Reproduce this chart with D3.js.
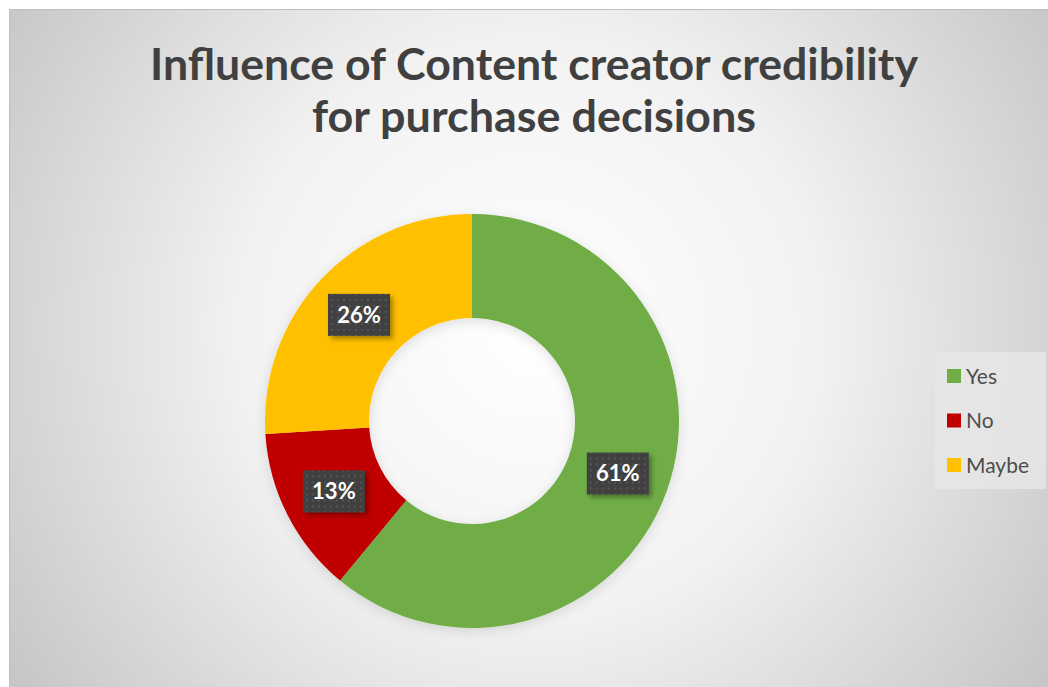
<!DOCTYPE html>
<html>
<head>
<meta charset="utf-8">
<script src="https://cdn.jsdelivr.net/npm/d3@7"></script>
<style>
  html, body { margin: 0; padding: 0; background: #ffffff; }
  svg { display: block; }
</style>
</head>
<body>
<svg id="chart" width="1048" height="687"></svg>
<script>
// Survey answers and their shares (percent)
const categories = ["Yes", "No", "Maybe"];
const shares = [61, 13, 26];
const colors = ["#70AD47", "#C00000", "#FFC000"];
const titleLines = ["Influence of Content creator credibility", "for purchase decisions"];

const W = 1048, H = 687;
const svg = d3.select("#chart");
const defs = svg.append("defs");

// Radial background fill: white in the middle fading to grey at the edges
const bg = defs.append("radialGradient").attr("id", "bgGrad")
  .attr("gradientUnits", "userSpaceOnUse")
  .attr("cx", 530).attr("cy", 330).attr("r", 640);
bg.append("stop").attr("offset", "0%").attr("stop-color", "#ffffff");
bg.append("stop").attr("offset", "45%").attr("stop-color", "#f2f2f2");
bg.append("stop").attr("offset", "100%").attr("stop-color", "#c4c4c4");

// Dotted texture for the data label boxes
const pat = defs.append("pattern").attr("id", "dots")
  .attr("patternUnits", "userSpaceOnUse").attr("width", 6).attr("height", 6);
pat.append("rect").attr("width", 6).attr("height", 6).attr("fill", "#404040");
pat.append("rect").attr("x", 2).attr("y", 2).attr("width", 2).attr("height", 2).attr("fill", "#555555");

// Soft shadows
const lblShadow = defs.append("filter").attr("id", "lblShadow")
  .attr("x", "-30%").attr("y", "-30%").attr("width", "160%").attr("height", "160%");
lblShadow.append("feDropShadow").attr("dx", 3).attr("dy", 3).attr("stdDeviation", 2.5)
  .attr("flood-color", "#000").attr("flood-opacity", 0.35);

const ringShadow = defs.append("filter").attr("id", "ringShadow")
  .attr("x", "-20%").attr("y", "-20%").attr("width", "140%").attr("height", "140%");
ringShadow.append("feDropShadow").attr("dx", 0).attr("dy", 3).attr("stdDeviation", 6)
  .attr("flood-color", "#000").attr("flood-opacity", 0.12);

// Chart area
svg.append("rect")
  .attr("x", 9.5).attr("y", 9.5).attr("width", W).attr("height", H)
  .attr("fill", "url(#bgGrad)")
  .attr("stroke", "#bfbfbf").attr("stroke-width", 1);

// Title: two centred lines, condensed to their set widths
const titleY = [80, 132];
const titleW = [768, 444];
const titleX = 534;
svg.append("g")
  .attr("font-family", "Lato, 'Open Sans', sans-serif")
  .attr("font-weight", "bold").attr("fill", "#404040").attr("text-anchor", "middle")
  .selectAll("text").data(titleLines).join("text")
  .attr("x", titleX).attr("y", (d, i) => titleY[i])
  .attr("font-size", 44)
  .attr("textLength", (d, i) => titleW[i])
  .attr("lengthAdjust", "spacingAndGlyphs")
  .text(d => d);

// Donut
const cx = 472, cy = 421, rOuter = 207, rInner = 103;
const data = categories.map((c, i) => ({ name: c, value: shares[i], color: colors[i] }));
const pie = d3.pie().value(d => d.value).sort(null);
const arcs = pie(data);
const arc = d3.arc().innerRadius(rInner).outerRadius(rOuter);
const labelArc = d3.arc().innerRadius((rInner + rOuter) / 2).outerRadius((rInner + rOuter) / 2);

const ring = svg.append("g").attr("transform", `translate(${cx},${cy})`);
ring.append("g").attr("filter", "url(#ringShadow)")
  .selectAll("path").data(arcs).join("path")
  .attr("d", arc)
  .attr("fill", d => d.data.color);

// Data labels
const fmt = d3.format(".0%");
const total = d3.sum(shares);
const labels = ring.selectAll("g.lbl").data(arcs).join("g")
  .attr("class", "lbl")
  .attr("transform", d => {
    const [x, y] = labelArc.centroid(d);
    return `translate(${x},${y})`;
  });
labels.append("rect")
  .attr("x", -31).attr("y", -21).attr("width", 62).attr("height", 42)
  .attr("fill", "url(#dots)")
  .attr("filter", "url(#lblShadow)");
labels.append("text")
  .attr("text-anchor", "middle").attr("dy", "0.36em")
  .attr("font-family", "Lato, 'Open Sans', sans-serif").attr("font-weight", "bold")
  .attr("font-size", 22).attr("fill", "#ffffff")
  .text(d => fmt(d.data.value / total));

// Legend
const legend = svg.append("g").attr("transform", "translate(935,352)");
legend.append("rect").attr("width", 111).attr("height", 137).attr("fill", "#e6e6e6").attr("opacity", 0.85);
const rowY = d3.scalePoint().domain(categories).range([24, 113]);
const items = legend.selectAll("g.item").data(data).join("g")
  .attr("class", "item")
  .attr("transform", d => `translate(12,${rowY(d.name)})`);
items.append("rect").attr("x", 0).attr("y", -7).attr("width", 14).attr("height", 14)
  .attr("fill", d => d.color);
items.append("text").attr("x", 19).attr("dy", "0.36em")
  .attr("font-family", "Lato, 'Open Sans', sans-serif").attr("font-size", 21)
  .attr("fill", "#4d4d4d").text(d => d.name);
</script>
</body>
</html>
